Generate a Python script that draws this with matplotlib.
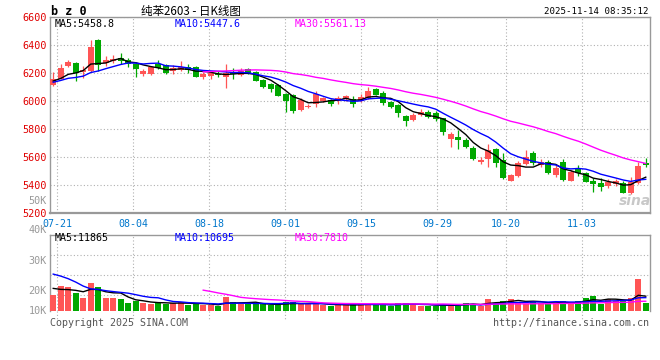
import matplotlib
matplotlib.use("Agg")
import matplotlib.pyplot as plt
import matplotlib.transforms as mtransforms
import numpy as np
import pandas as pd

# trading days 07-18 .. 11-14, one candle each
tick_dates = ["07-21", "08-04", "08-18", "09-01", "09-15", "09-29", "10-20", "11-03"]
tick_index = [1, 11, 21, 31, 41, 51, 60, 70]

opens = [6115, 6159, 6252, 6271, 6205, 6216, 6436, 6273, 6285, 6305,
         6293, 6264, 6191, 6193, 6262, 6257, 6214, 6221, 6245, 6245,
         6174, 6181, 6195, 6174, 6210, 6186, 6229, 6210, 6150, 6119,
         6114, 6048, 6043, 5936, 5960, 5976, 6000, 6007, 6000, 6012,
         6012, 6002, 6019, 6086, 6060, 5995, 5971, 5893, 5866, 5900,
         5924, 5916, 5876, 5726, 5745, 5721, 5667, 5567, 5586, 5657,
         5579, 5431, 5467, 5550, 5631, 5543, 5567, 5471, 5567, 5431,
         5519, 5483, 5431, 5412, 5395, 5407, 5417, 5341, 5417, 5555]
highs = [6205, 6264, 6295, 6278, 6250, 6436, 6440, 6321, 6328, 6343,
         6307, 6281, 6230, 6250, 6293, 6262, 6257, 6288, 6267, 6250,
         6205, 6210, 6214, 6264, 6233, 6236, 6236, 6215, 6155, 6125,
         6118, 6055, 6050, 6019, 5976, 6071, 6030, 6015, 6033, 6045,
         6033, 6050, 6098, 6095, 6070, 6000, 5975, 5898, 5914, 5945,
         5935, 5930, 5880, 5781, 5790, 5735, 5680, 5600, 5690, 5665,
         5630, 5475, 5570, 5650, 5640, 5585, 5575, 5540, 5583, 5505,
         5540, 5490, 5450, 5450, 5440, 5440, 5430, 5460, 5566, 5590]
lows = [6110, 6155, 6240, 6143, 6166, 6210, 6216, 6247, 6270, 6262,
        6241, 6174, 6180, 6188, 6232, 6195, 6193, 6215, 6200, 6170,
        6155, 6155, 6170, 6095, 6155, 6180, 6195, 6140, 6095, 6066,
        6033, 5924, 5916, 5930, 5948, 5960, 5990, 5965, 5976, 6000,
        5960, 5995, 6015, 6040, 5970, 5950, 5884, 5824, 5860, 5890,
        5875, 5860, 5757, 5674, 5660, 5665, 5580, 5550, 5525, 5530,
        5445, 5425, 5460, 5540, 5545, 5530, 5480, 5460, 5430, 5425,
        5465, 5418, 5352, 5360, 5380, 5390, 5340, 5335, 5410, 5530]
closes = [6155, 6236, 6275, 6200, 6221, 6386, 6257, 6293, 6300, 6284,
          6262, 6229, 6214, 6241, 6238, 6198, 6233, 6241, 6221, 6174,
          6193, 6198, 6183, 6198, 6193, 6214, 6198, 6145, 6102, 6086,
          6038, 5998, 5929, 6007, 5965, 6048, 6019, 5976, 6019, 6036,
          5979, 6031, 6074, 6043, 5988, 5959, 5912, 5859, 5900, 5924,
          5888, 5869, 5776, 5762, 5721, 5674, 5586, 5579, 5650, 5560,
          5452, 5471, 5559, 5598, 5560, 5567, 5488, 5524, 5436, 5495,
          5483, 5424, 5407, 5388, 5424, 5431, 5345, 5424, 5536, 5543]
volumes = [12800, 20000, 19200, 14600, 10400, 22400, 19200, 10400, 10400, 9600,
           6400, 8000, 6400, 5600, 7200, 5600, 6400, 7200, 4800, 6400,
           4800, 4800, 4000, 11200, 7200, 5600, 5600, 5600, 5600, 4800,
           4800, 7400, 7200, 5600, 5600, 6400, 4800, 4000, 4800, 4800,
           5600, 5600, 5600, 4800, 5600, 4000, 6400, 6400, 5600, 4000,
           3800, 3800, 6000, 5300, 3800, 6800, 6000, 3800, 9800, 6800,
           8300, 9800, 7500, 6000, 7500, 6800, 5300, 6800, 8300, 5300,
           8400, 10800, 12400, 6000, 10000, 8100, 8200, 10600, 25900, 6500]

# sessions before 07-18, only used to seed the moving averages
prior_closes = [6108, 6122, 6140, 6125, 6130, 6146, 6128, 6150, 6136]
prior_volumes = [36000, 40000, 41600, 42400, 44800, 24000, 20000, 17600, 16000]

price_ticks = [5200, 5400, 5600, 5800, 6000, 6200, 6400, 6600]
vol_labels = ["50K", "40K", "30K", "20K", "10K"]
price_legend = ["MA5:5458.8", "MA10:5447.6", "MA30:5561.13"]
vol_legend = ["MA5:11865", "MA10:10695", "MA30:7810"]
ma_periods = [5, 10, 30]
ma_colors = ["#000000", "#0000ff", "#ff00ff"]

RED = "#ff5555"
GREEN = "#00a800"
FRAME = "#999999"
GRID = dict(color="#b0b0b0", linestyle=(0, (1, 2)), linewidth=0.8)
MONO = "DejaVu Sans Mono"

plt.rcParams["font.family"] = [MONO, "Noto Sans CJK SC"]

W, H = 660, 360


def fx(px):
    return px / W


def fy(py):
    return 1 - py / H


n = len(closes)
x = np.arange(n)
o = np.array(opens, float)
c = np.array(closes, float)
up = c >= o
colors = np.where(up, RED, GREEN)


def moving(prior, vals, p):
    s = pd.Series(list(prior) + list(vals), dtype=float)
    return s.rolling(p).mean().to_numpy()[len(prior):]


fig = plt.figure(figsize=(W / 100, H / 100), dpi=100)
ax = fig.add_axes([fx(50), fy(213), 599.5 / W, 196 / H])
axv = fig.add_axes([fx(50), fy(311), 599.5 / W, 76 / H])

# sina spaces its date grid a little wider than the candles
grid_x = [(7.6 * i - 3.5) / 7.5 for i in tick_index]

for a in (ax, axv):
    a.set_xlim(-0.43, 79.5)
    for s in a.spines.values():
        s.set_color(FRAME)
        s.set_linewidth(1)
    a.set_xticks(grid_x)
    a.tick_params(length=0)
    a.grid(True, **GRID)
    a.set_axisbelow(True)

# candles
body_lo = np.minimum(o, c)
body_h = np.maximum(np.abs(c - o), 7)
ax.vlines(x, lows, highs, colors=colors, linewidth=0.9, zorder=2)
ax.bar(x, body_h, bottom=body_lo, width=0.75, color=colors, linewidth=0, zorder=3)
for p, col in zip(ma_periods, ma_colors):
    ax.plot(x, moving(prior_closes, closes, p), color=col, linewidth=1.0, zorder=4)

ax.set_ylim(5200, 6600)
ax.set_yticks(price_ticks)
ax.set_yticklabels([str(t) for t in price_ticks], color="#e00000", fontsize=7.3)
ax.set_xticklabels(tick_dates, color="#0077cc", fontsize=7.2)
ax.tick_params(axis="x", pad=4)
ax.tick_params(axis="y", pad=2.5)
ax.spines["bottom"].set_linewidth(1.6)

for txt, col, px in zip(price_legend, ma_colors, [55, 175, 295]):
    ax.text((px - 50) / 599.5, (213 - 24) / 196, txt, transform=ax.transAxes,
            color=col, fontsize=7.2, va="center", ha="left")

# volume
vol_top = 76 * 800
axv.bar(x, volumes, width=0.75, color=colors, linewidth=0, zorder=3)
for p, col in zip(ma_periods, ma_colors):
    axv.plot(x, moving(prior_volumes, volumes, p), color=col, linewidth=1.0, zorder=4)
axv.set_ylim(0, vol_top)
axv.set_yticks([vol_top * f for f in (16 / 76, 36 / 76, 56 / 76)])
axv.set_yticklabels([])
axv.set_xticklabels([])
axv.spines["bottom"].set_visible(False)
trans = mtransforms.blended_transform_factory(axv.transData, axv.transAxes)
for gx in grid_x:
    axv.plot([gx, gx], [0, -0.12], transform=trans, clip_on=False, **GRID)

for lab, py in zip(vol_labels, [200.5, 230, 261, 290.7, 310.7]):
    fig.text(fx(47), fy(py), lab, color="#999999", fontsize=7.3, ha="right", va="center")

for txt, col, px in zip(vol_legend, ma_colors, [55, 175, 295]):
    axv.text((px - 50) / 599.5, (311 - 238) / 76, txt, transform=axv.transAxes,
             color=col, fontsize=7.2, va="center", ha="left")

# header and footer
fig.text(fx(51), fy(11.5), "b z 0", fontsize=8.5, weight="bold", ha="left", va="center")
fig.text(fx(141), fy(11.5), "纯苯2603 - 日K线图", fontsize=8.3, ha="left", va="center",
         family=["Noto Sans CJK SC", "DejaVu Sans"])
fig.text(fx(649), fy(12), "2025-11-14 08:35:12", fontsize=6.6, ha="right", va="center")
fig.text(fx(50), fy(323), "Copyright 2025 SINA.COM", fontsize=7.2, color="#555555",
         ha="left", va="center")
fig.text(fx(649), fy(323), "http://finance.sina.com.cn", fontsize=7.2, color="#555555",
         ha="right", va="center")
fig.text(fx(635), fy(201), "sina", fontsize=10, style="italic", weight="bold",
         color="#c8c8c8", ha="center", va="center", family="DejaVu Sans", zorder=1)

fig.savefig("out.png", dpi=100)
